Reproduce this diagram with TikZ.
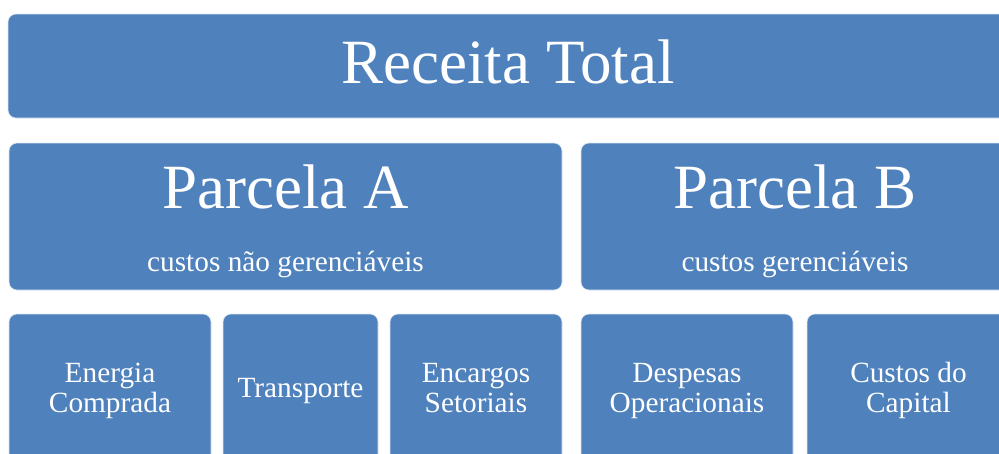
\documentclass[tikz,border=0pt]{standalone}
\usepackage{fontspec}
\setmainfont{Liberation Serif}
\definecolor{boxblue}{HTML}{4F81BD}
\begin{document}
\begin{tikzpicture}[x=1pt,y=-1pt,
  blk/.style={fill=boxblue,draw=white!80!boxblue,line width=0.6pt,rounded corners=8pt},
  bigtxt/.style={text=white,anchor=base,inner sep=0pt,font=\fontsize{63}{63}\selectfont},
  midtxt/.style={text=white,anchor=base,inner sep=0pt,font=\fontsize{29.3}{30}\selectfont},
  smalltxt/.style={text=white,anchor=center,inner sep=0pt,align=center,font=\fontsize{29.3}{30}\selectfont}]
\useasboundingbox (0,0) rectangle (999,453);
\clip (0,0) rectangle (999,453);
% boxes
\path[blk] (8,14) rectangle (1012,118);
\path[blk] (9,143) rectangle (562,290);
\path[blk] (581,143) rectangle (1010,290);
\path[blk] (9,314) rectangle (211,462);
\path[blk] (223,314) rectangle (378,462);
\path[blk] (390,314) rectangle (562,462);
\path[blk] (581,314) rectangle (793,462);
\path[blk] (807,314) rectangle (1010,462);
% texts
\node[bigtxt] (rt) at (508,83) {Receita Total};
\node[bigtxt] (pa) at (285.5,208) {Parcela A};
\node[bigtxt] (pb) at (795,208) {Parcela B};
\node[midtxt] (pas) at (285.5,271) {custos não gerenciáveis};
\node[midtxt] (pbs) at (795,271) {custos gerenciáveis};
\node[smalltxt] (ec) at (110,391.5) {\strut Energia\\\strut Comprada};
\node[midtxt] (tr) at (300.5,397) {Transporte};
\node[smalltxt] (es) at (476,391.5) {\strut Encargos\\\strut Setoriais};
\node[smalltxt] (do) at (687,391.5) {\strut Despesas\\\strut Operacionais};
\node[smalltxt] (cc) at (908.5,391.5) {\strut Custos do\\\strut Capital};
\end{tikzpicture}
\end{document}
